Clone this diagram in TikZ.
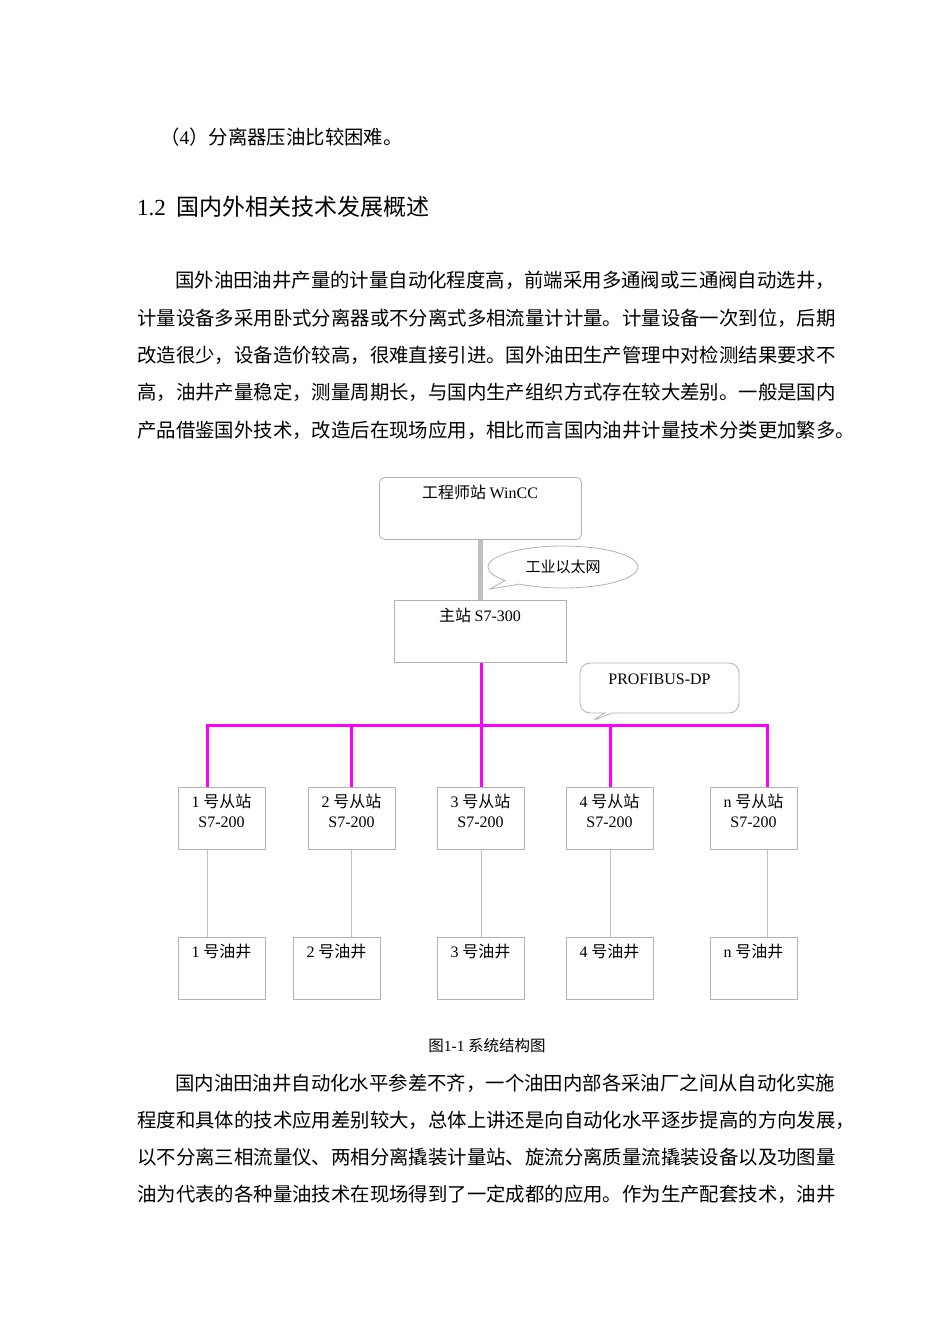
\documentclass[tikz,border=0pt]{standalone}
\usepackage{fontspec}
\setmainfont{Liberation Serif}
\newfontfamily\cjk{Noto Sans CJK SC}
\usetikzlibrary{shapes.callouts}
\definecolor{mag}{RGB}{255,0,255}
\begin{document}
\begin{tikzpicture}[x=1pt,y=-1pt,
  body/.style={anchor=west,inner sep=0pt,font=\cjk\fontsize{19.4}{22}\selectfont},
  box/.style={draw=black!30,line width=0.8pt,minimum width=#1,minimum height=62pt,anchor=north west,inner sep=0pt},
  lbl/.style={font=\fontsize{16}{20}\selectfont,align=center,anchor=north},
  gl/.style={draw=black!25,line width=0.8pt},
  mg/.style={draw=mag,line width=3pt}]
\useasboundingbox (0,0) rectangle (950,1344);
\newcommand\lat[1]{{\rmfamily #1}}
% text
\node[body] (t0) at (160,137) {（\lat{4}）分离器压油比较困难。};
\node[anchor=west,inner sep=0pt,font=\cjk\fontsize{23}{26}\selectfont] (h) at (137,207) {\lat{1.2}\ \ 国内外相关技术发展概述};
\node[body] (p1) at (175,280) {国外油田油井产量的计量自动化程度高，前端采用多通阀或三通阀自动选井，};
\node[body] (p2) at (137,318) {计量设备多采用卧式分离器或不分离式多相流量计计量。计量设备一次到位，后期};
\node[body] (p3) at (137,355) {改造很少，设备造价较高，很难直接引进。国外油田生产管理中对检测结果要求不};
\node[body] (p4) at (137,392) {高，油井产量稳定，测量周期长，与国内生产组织方式存在较大差别。一般是国内};
\node[body] (p5) at (137,430) {产品借鉴国外技术，改造后在现场应用，相比而言国内油井计量技术分类更加繁多。};
\node[body] (q1) at (175,1083) {国内油田油井自动化水平参差不齐，一个油田内部各采油厂之间从自动化实施};
\node[body] (q2) at (137,1120) {程度和具体的技术应用差别较大，总体上讲还是向自动化水平逐步提高的方向发展，};
\node[body] (q3) at (137,1157) {以不分离三相流量仪、两相分离撬装计量站、旋流分离质量流撬装设备以及功图量};
\node[body] (q4) at (137,1194) {油为代表的各种量油技术在现场得到了一定成都的应用。作为生产配套技术，油井};
\node[font=\cjk\fontsize{15.5}{18}\selectfont,inner sep=0pt] (cap) at (487,1046) {图\lat{1-1} 系统结构图};
% diagram
\node[box=202pt,rounded corners=5pt] (w) at (379,477) {};
\node[lbl] at (480,482) {\cjk 工程师站\ \lat{WinCC}};
\node[box=172pt] (m) at (394,600) {};
\node[lbl] at (480,605) {\cjk 主站\ \lat{S7-300}};
\draw[draw=black!25,line width=5pt] (w.south) -- (m.north);
\node[ellipse callout,draw=black!30,line width=0.8pt,minimum width=150pt,minimum height=42pt,
  callout absolute pointer={(490,589)},font=\cjk\fontsize{15}{17}\selectfont] (e) at (563,567) {工业以太网};
\node[rectangle callout,rounded corners=10pt,draw=black!30,line width=0.8pt,minimum width=159pt,minimum height=50pt,
  callout absolute pointer={(590,722)},text depth=18pt,font=\fontsize{16}{18}\selectfont] (pb) at (659.5,688) {PROFIBUS-DP};
\coordinate (bl) at (207,725); \coordinate (br) at (767,725); \coordinate (bm) at (481,725);
\draw[mg] (m.south -| bm) -- (bm);
\draw[mg] ([xshift=-1.5pt]bl) -- ([xshift=1.5pt]br);
\foreach \i/\sx/\wx/\cx/\n in {1/178/178/207/1,2/308/293/351/2,3/437/437/481/3,4/566/566/610/4,5/710/710/767/n}{
  \node[box=87pt] (s\i) at (\sx,787) {};
  \node[lbl] at ([xshift=43.5pt,yshift=-4pt]s\i.north west) {\cjk\lat{\n} 号从站\\\lat{S7-200}};
  \node[box=87pt] (o\i) at (\wx,937) {};
  \node[lbl] at ([xshift=43.5pt,yshift=-4pt]o\i.north west) {\cjk\lat{\n} 号油井};
  \draw[mg] (\cx,725) -- (s\i.north -| {(\cx,0)});
  \draw[gl] (s\i.south -| {(\cx,0)}) -- (o\i.north -| {(\cx,0)});
}
\end{tikzpicture}
\end{document}
